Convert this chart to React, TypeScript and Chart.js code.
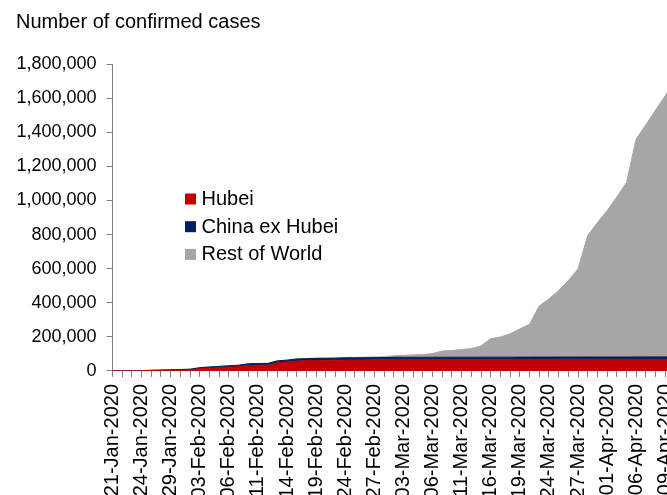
import React, { useEffect, useRef } from 'react';
import { Chart, registerables } from 'chart.js';

Chart.register(...registerables);

const dates = [
  '21-Jan-2020', '22-Jan-2020', '23-Jan-2020', '24-Jan-2020', '27-Jan-2020', '28-Jan-2020', '29-Jan-2020', '30-Jan-2020', '31-Jan-2020',
  '03-Feb-2020', '04-Feb-2020', '05-Feb-2020', '06-Feb-2020', '07-Feb-2020',
  '10-Feb-2020', '11-Feb-2020', '12-Feb-2020', '13-Feb-2020', '14-Feb-2020',
  '17-Feb-2020', '18-Feb-2020', '19-Feb-2020', '20-Feb-2020', '21-Feb-2020',
  '24-Feb-2020', '25-Feb-2020', '26-Feb-2020', '27-Feb-2020', '28-Feb-2020',
  '02-Mar-2020', '03-Mar-2020', '04-Mar-2020', '05-Mar-2020', '06-Mar-2020',
  '09-Mar-2020', '10-Mar-2020', '11-Mar-2020', '12-Mar-2020', '13-Mar-2020',
  '16-Mar-2020', '17-Mar-2020', '18-Mar-2020', '19-Mar-2020', '20-Mar-2020',
  '23-Mar-2020', '24-Mar-2020', '25-Mar-2020', '26-Mar-2020', '27-Mar-2020',
  '30-Mar-2020', '31-Mar-2020', '01-Apr-2020', '02-Apr-2020', '03-Apr-2020',
  '06-Apr-2020', '07-Apr-2020', '08-Apr-2020', '09-Apr-2020', '10-Apr-2020',
];

const hubei = [
  270, 444, 549, 729, 2714, 3554, 4586, 5806, 7153,
  13522, 16678, 19665, 22112, 24953,
  31728, 33366, 33366, 48206, 51986,
  58182, 59989, 61682, 62031, 62662,
  64084, 64287, 64786, 65187, 65596,
  67103, 67217, 67332, 67466, 67592,
  67743, 67760, 67773, 67781, 67786,
  67798, 67799, 67800, 67800, 67800,
  67800, 67801, 67801, 67801, 67801,
  67801, 67801, 67802, 67802, 67802,
  67803, 67803, 67803, 67803, 67803,
];

const chinaExHubei = [
  40, 100, 190, 330, 1500, 2000, 2200, 2700, 3300,
  5800, 6600, 7300, 7900, 8600,
  10200, 10500, 10800, 11000, 11300,
  12000, 12200, 12400, 12500, 12600,
  12800, 12900, 12950, 12990, 13000,
  13040, 13050, 13060, 13070, 13080,
  13110, 13130, 13150, 13170, 13200,
  13300, 13350, 13400, 13450, 13550,
  13750, 13800, 13900, 13950, 14050,
  14200, 14250, 14300, 14350, 14400,
  14550, 14600, 14650, 14700, 14750,
];

const restOfWorld = [
  6, 8, 14, 25, 50, 60, 70, 95, 120,
  150, 170, 200, 220, 280,
  330, 390, 400, 450, 510,
  700, 820, 890, 1000, 1200,
  2100, 2600, 3300, 4200, 5300,
  9000, 11000, 14000, 16700, 21100,
  37000, 38500, 45700, 50000, 66000,
  108000, 118000, 137000, 165000, 193000,
  300000, 341000, 390000, 448000, 517000,
  712000, 788000, 858000, 938000, 1023000,
  1278000, 1362000, 1448000, 1532000, 1625000,
];

const seriesNames = ['Hubei', 'China ex Hubei', 'Rest of World'];
const seriesColors = ['#C00000', '#002060', '#A6A6A6'];
const yMax = 1800000;
const yStep = 200000;
const labelEvery = 3;
const titleText = 'Number of confirmed cases';

const FONT = "'Liberation Sans', Arial, Helvetica, sans-serif";

const insideLegend = {
  id: 'insideLegend',
  afterDraw(chart: any) {
    const { ctx, chartArea } = chart;
    ctx.save();
    ctx.font = `20px ${FONT}`;
    ctx.textBaseline = 'middle';
    ctx.textAlign = 'left';
    chart.data.datasets.forEach((ds: any, i: number) => {
      const y = chartArea.top + 134.5 + i * 27.7;
      const x = chartArea.left + 72.5;
      ctx.fillStyle = ds.backgroundColor;
      ctx.fillRect(x, y - 5, 11, 11);
      ctx.fillStyle = '#000';
      ctx.fillText(ds.label, x + 16.5, y + 1);
    });
    ctx.restore();
  },
};

export default function App() {
  const ref = useRef<HTMLCanvasElement | null>(null);

  useEffect(() => {
    if (!ref.current) return;
    const series = [hubei, chinaExHubei, restOfWorld];
    const chart = new Chart(ref.current, {
      type: 'line',
      data: {
        labels: dates,
        datasets: series.map((d, i) => ({
          label: seriesNames[i],
          data: d,
          backgroundColor: seriesColors[i],
          borderColor: seriesColors[i],
          borderWidth: 1,
          pointRadius: 0,
          tension: 0,
          fill: i === 0 ? 'origin' : '-1',
        })),
      },
      options: {
        responsive: false,
        animation: false,
        layout: { padding: { left: 16, right: 16.5, top: 0, bottom: 2.5 } },
        plugins: {
          legend: { display: false },
          tooltip: { enabled: false },
          title: {
            display: true,
            text: titleText,
            align: 'start',
            color: '#000',
            font: { family: FONT, size: 20, weight: 'normal' },
            padding: { top: 10, bottom: 30 },
          },
        },
        scales: {
          x: {
            type: 'category',
            offset: false,
            grid: {
              display: true,
              drawOnChartArea: false,
              drawTicks: true,
              tickLength: 6,
              color: '#808080',
            },
            border: { display: true, color: '#808080' },
            ticks: {
              autoSkip: false,
              maxRotation: 90,
              minRotation: 90,
              padding: 7,
              color: '#000',
              font: { family: FONT, size: 20 },
              callback: (_v: any, idx: number) => (idx % labelEvery === 0 ? dates[idx] : ''),
            },
          },
          y: {
            stacked: true,
            min: 0,
            max: yMax,
            afterFit: (scale: any) => {
              scale.width = 96.5;
            },
            grid: {
              display: true,
              drawOnChartArea: false,
              drawTicks: true,
              tickLength: 6,
              color: '#808080',
            },
            border: { display: true, color: '#808080' },
            ticks: {
              stepSize: yStep,
              padding: 10,
              color: '#000',
              font: { family: FONT, size: 18 },
              callback: (v: any) => Number(v).toLocaleString('en-US'),
            },
          },
        },
      },
      plugins: [insideLegend],
    } as any);
    return () => chart.destroy();
  }, []);

  return (
    <div style={{ position: 'fixed', left: 0, top: 0, width: '100vw', height: '100vh', overflow: 'hidden', background: '#fff' }}>
      <canvas ref={ref} width={706} height={508} style={{ position: 'absolute', left: 0, top: 0, display: 'block' }} />
    </div>
  );
}
